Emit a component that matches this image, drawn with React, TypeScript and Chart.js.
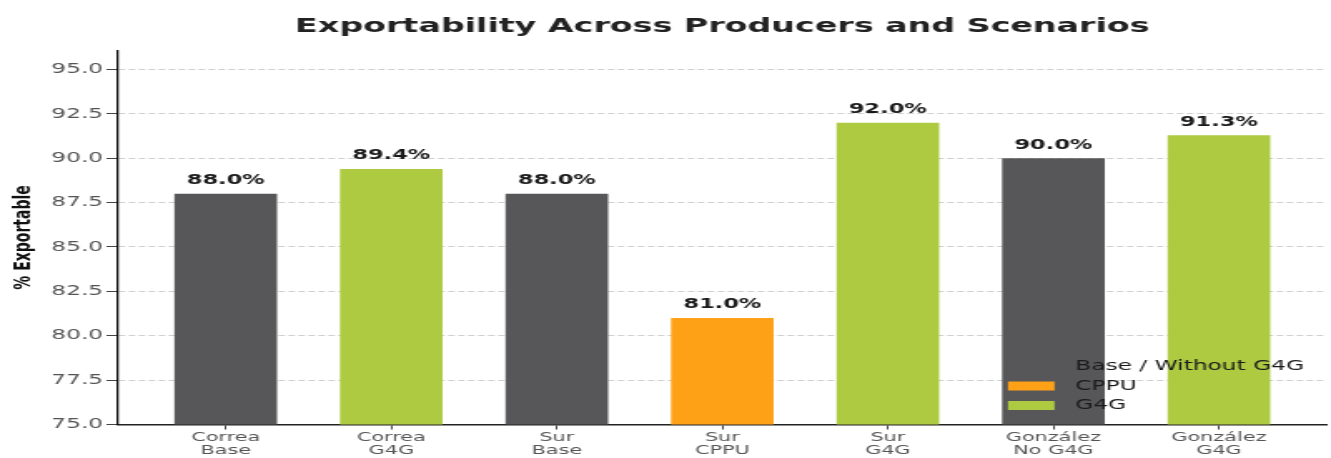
import React, { useEffect, useRef } from "react";
import { Chart, registerables } from "chart.js";

Chart.register(...registerables);

const chartTitle = "Exportability Across Producers and Scenarios";
const yAxisTitle = "% Exportable";
const producers = ["Correa", "Correa", "Sur", "Sur", "Sur", "González", "González"];
const scenarios = ["Base", "G4G", "Base", "CPPU", "G4G", "No G4G", "G4G"];
const values = [88.0, 89.4, 88.0, 81.0, 92.0, 90.0, 91.3];
const groups = [
  "Base / Without G4G",
  "G4G",
  "Base / Without G4G",
  "CPPU",
  "G4G",
  "Base / Without G4G",
  "G4G",
];
const legendLabels = ["Base / Without G4G", "CPPU", "G4G"];
const legendColors = ["#575759", "#FFA117", "#ADCA41"];
const yTicks = [75, 77.5, 80, 82.5, 85, 87.5, 90, 92.5, 95];

const FONT = "'DejaVu Sans', 'Liberation Sans', sans-serif";

const titlePlugin = {
  id: "centeredTitle",
  afterDraw(chart: any) {
    const { ctx, chartArea } = chart;
    ctx.save();
    ctx.font = `bold 20px ${FONT}`;
    ctx.fillStyle = "#222222";
    ctx.textAlign = "center";
    ctx.textBaseline = "alphabetic";
    ctx.fillText(chartTitle, (chartArea.left + chartArea.right) / 2, 31.5);
    ctx.restore();
  },
};

const valueLabelPlugin = {
  id: "valueLabels",
  afterDatasetsDraw(chart: any) {
    const { ctx } = chart;
    ctx.save();
    ctx.font = `bold 13.5px ${FONT}`;
    ctx.fillStyle = "#1a1a1a";
    ctx.textAlign = "center";
    ctx.textBaseline = "alphabetic";
    chart.data.datasets.forEach((ds: any, di: number) => {
      const meta = chart.getDatasetMeta(di);
      meta.data.forEach((el: any, i: number) => {
        const v = ds.data[i].y;
        ctx.fillText(v.toFixed(1) + "%", el.x, el.y - 9.5);
      });
    });
    ctx.restore();
  },
};

const legendPlugin = {
  id: "innerLegend",
  afterDatasetsDraw(chart: any) {
    const { ctx, chartArea } = chart;
    ctx.save();
    ctx.font = `14px ${FONT}`;
    ctx.textAlign = "left";
    ctx.textBaseline = "middle";
    const swatchLeft = chartArea.right - 191.5;
    chart.data.datasets.forEach((ds: any, i: number) => {
      const cy = chartArea.bottom - 58 + i * 19.5;
      ctx.fillStyle = ds.backgroundColor;
      ctx.fillRect(swatchLeft, cy - 4.5, 28, 9);
      ctx.fillStyle = "#1a1a1a";
      ctx.fillText(ds.label, swatchLeft + 40.5, cy);
    });
    ctx.restore();
  },
};

export default function App() {
  const canvasRef = useRef<HTMLCanvasElement | null>(null);

  useEffect(() => {
    const canvas = canvasRef.current;
    if (!canvas) return;
    Chart.defaults.font.family = FONT;

    const datasets = legendLabels.map((label, li) => ({
      label,
      backgroundColor: legendColors[li],
      borderWidth: 0,
      grouped: false,
      categoryPercentage: 1,
      barPercentage: 0.62,
      data: values
        .map((v, i) => ({ x: i, y: v, g: groups[i] }))
        .filter((p) => p.g === label)
        .map((p) => ({ x: p.x, y: p.y })),
    }));

    const chart = new Chart(canvas, {
      type: "bar",
      data: { datasets },
      options: {
        responsive: false,
        animation: false,
        devicePixelRatio: 1,
        layout: { padding: { top: 50.5, right: 2.7, left: 0, bottom: 0 } },
        plugins: {
          legend: { display: false },
          title: { display: false },
          tooltip: { enabled: false },
        },
        scales: {
          x: {
            type: "linear",
            min: -0.65,
            max: 6.65,
            offset: false,
            afterBuildTicks: (s: any) => {
              s.ticks = values.map((_, i) => ({ value: i }));
            },
            afterFit: (s: any) => {
              s.height = 33.5;
            },
            ticks: {
              autoSkip: false,
              maxRotation: 0,
              minRotation: 0,
              padding: 1,
              color: "#555555",
              font: { family: FONT, size: 12.5, lineHeight: 1.08 },
              callback: (v: any) => [producers[v], scenarios[v]],
            },
            grid: {
              offset: false,
              drawOnChartArea: false,
              drawTicks: true,
              tickLength: 5,
              tickColor: "#444444",
              tickWidth: 1,
            },
            border: { display: true, color: "#222222", width: 1.5 },
          },
          y: {
            min: 75,
            max: 96.07,
            afterBuildTicks: (s: any) => {
              s.ticks = yTicks.map((v) => ({ value: v }));
            },
            afterFit: (s: any) => {
              s.width = 71;
            },
            ticks: {
              padding: 2,
              color: "#555555",
              font: { family: FONT, size: 14 },
              callback: (v: any) => Number(v).toFixed(1),
            },
            grid: {
              color: "#d0d0d0",
              lineWidth: 1,
              tickLength: 7,
              tickColor: "#444444",
              tickWidth: 1,
              tickBorderDash: [],
            },
            border: { display: true, color: "#111111", width: 1.3, dash: [4, 2] },
            title: {
              display: true,
              text: yAxisTitle,
              color: "#111111",
              font: { family: FONT, size: 14, weight: "bold" },
              padding: { top: 5.6, bottom: 0 },
            },
          },
        },
      } as any,
      plugins: [valueLabelPlugin, legendPlugin, titlePlugin],
    });

    return () => chart.destroy();
  }, []);

  return (
    <div style={{ position: "fixed", left: 0, top: 0, width: 1331, height: 458, background: "#ffffff" }}>
      <canvas
        ref={canvasRef}
        width={800}
        height={458}
        style={{ display: "block", width: "1331px", height: "458px" }}
      />
    </div>
  );
}
